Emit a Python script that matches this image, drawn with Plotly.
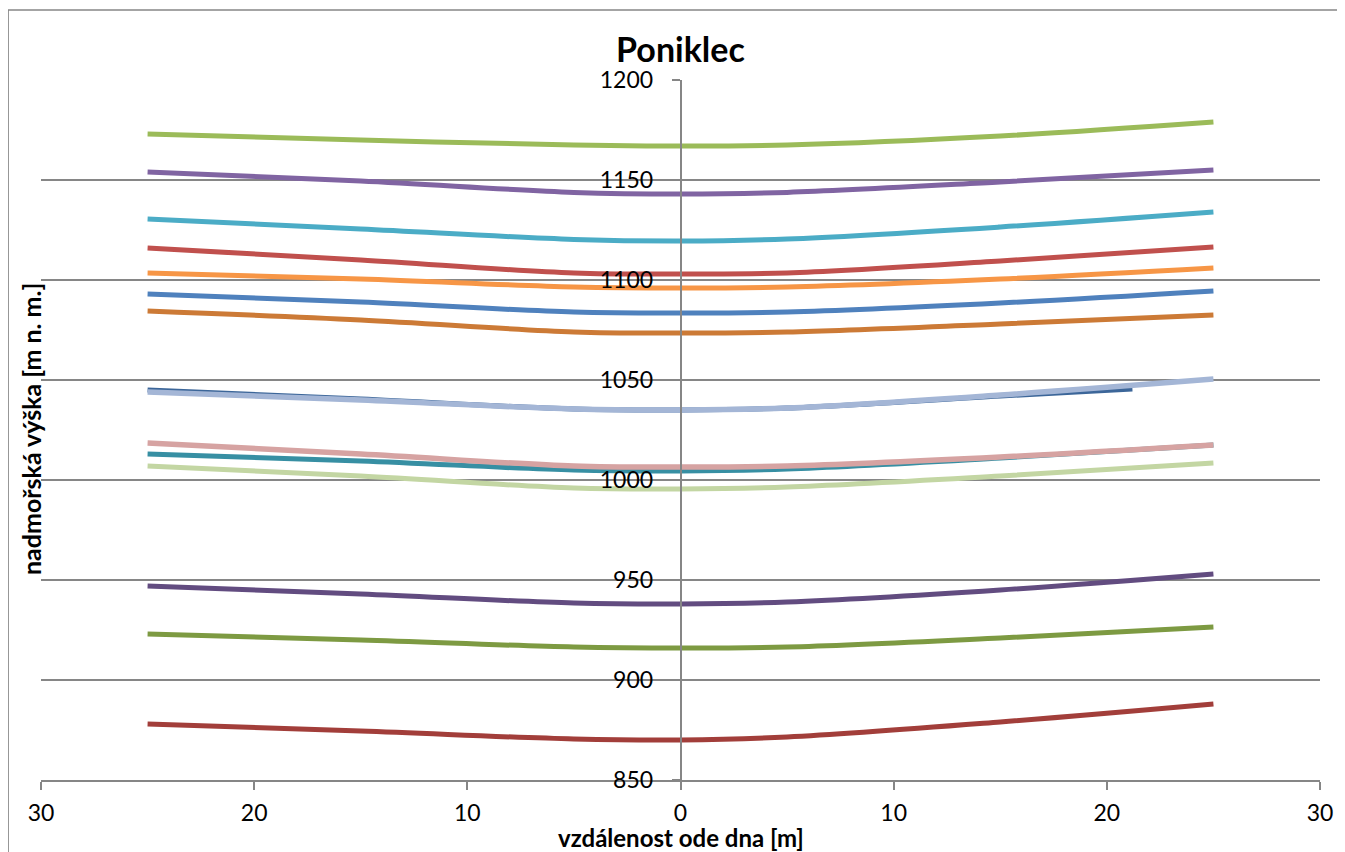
import plotly.graph_objects as go

# ---- data (distance from river bed [m], altitude [m n. m.]) ----
x_std = [-25, -15, -5, 0, 5, 15, 25]
x_short = [-25, -15, -5, 0, 5, 15, 21.2]

y_green = [1173, 1170, 1167.5, 1167, 1167.5, 1172, 1179]
y_purple = [1154, 1149.5, 1143.8, 1143, 1143.8, 1149, 1155]
y_cyan = [1130.5, 1125.5, 1120.3, 1119.5, 1120.5, 1126.5, 1134]
y_red = [1116, 1110, 1103.5, 1103, 1103.5, 1109.5, 1116.5]
y_orange = [1103.5, 1100.5, 1096.5, 1096, 1096.5, 1100.5, 1106]
y_blue = [1093, 1089, 1084, 1083.5, 1084, 1088.5, 1094.5]
y_dkorange = [1084.5, 1080, 1074, 1073.5, 1074, 1078, 1082.5]
y_dkblue = [1045, 1040.5, 1035.5, 1035, 1036, 1042, 1045.5]
y_ltblue = [1044, 1040, 1035.5, 1035, 1036, 1042.5, 1050.5]
y_teal = [1013, 1009.5, 1005, 1004.5, 1005.5, 1011, 1017.5]
y_pink = [1018.5, 1013, 1007, 1006.5, 1007, 1011.5, 1017.5]
y_ltgreen = [1007, 1002, 996, 995.5, 996.5, 1002, 1008.5]
y_dkpurple = [947, 943, 938.5, 938, 939, 945, 953]
y_olive = [923, 920, 916.5, 916, 916.5, 921, 926.5]
y_dkred = [878, 874.5, 870.5, 870, 871.5, 879, 888]

x_ticks = [-30, -20, -10, 0, 10, 20, 30]
x_tick_text = ["30", "20", "10", "0", "10", "20", "30"]
y_ticks = [850, 900, 950, 1000, 1050, 1100, 1150, 1200]

series = [
    (x_std, y_green, "#9BBB59", 5),
    (x_std, y_purple, "#8064A2", 5),
    (x_std, y_cyan, "#4BACC6", 5),
    (x_std, y_red, "#C0504D", 5),
    (x_std, y_orange, "#F79646", 5),
    (x_std, y_blue, "#4F81BD", 5),
    (x_std, y_dkorange, "#CC7A36", 5),
    (x_short, y_dkblue, "#3C6699", 5),
    (x_std, y_ltblue, "#A4B6D6", 5.5),
    (x_std, y_teal, "#378FA3", 5),
    (x_std, y_pink, "#D6A3A2", 5.5),
    (x_std, y_ltgreen, "#C3D6A3", 5),
    (x_std, y_dkpurple, "#624C80", 5),
    (x_std, y_olive, "#7D9A42", 5),
    (x_std, y_dkred, "#A23E3A", 5),
]

FONT = "Lato"
GRID = "#868686"

# figure geometry (page body adds an 8px margin)
W, H = 1337, 844
ML, MR, MT, MB = 33, 21, 72, 72
PW, PH = W - ML - MR, H - MT - MB


def px_x(p):
    return (p - ML) / PW


def px_y(p):
    return (MT + PH - p) / PH


fig = go.Figure()
for i, (xs, ys, col, w) in enumerate(series):
    fig.add_trace(go.Scatter(
        x=xs, y=ys, mode="lines", name=f"{i + 1}",
        line=dict(color=col, width=w, shape="spline", smoothing=1.0),
        showlegend=False,
    ))

fig.update_layout(
    width=W, height=H,
    margin=dict(l=ML, r=MR, t=MT, b=MB),
    paper_bgcolor="white", plot_bgcolor="white",
    font=dict(family=FONT, size=23, color="black"),
    title=dict(text="<b>Poniklec</b>", xref="paper", x=0.5, xanchor="center",
               y=1 - 42 / H, yanchor="middle",
               font=dict(family=FONT, size=34, color="black")),
    xaxis=dict(
        range=[-30, 30], tickmode="array", tickvals=x_ticks, ticktext=x_tick_text,
        showgrid=False, zeroline=False, showline=True, linecolor=GRID, linewidth=1.5,
        ticks="outside", ticklen=8, tickcolor=GRID, tickwidth=1.5,
        ticklabelstandoff=4,
        tickfont=dict(family=FONT, size=23, color="black"),
    ),
    yaxis=dict(
        range=[850, 1200], tickmode="array", tickvals=y_ticks,
        anchor="free", position=0.5,
        showgrid=True, gridcolor=GRID, gridwidth=1.5, zeroline=False,
        showline=True, linecolor=GRID, linewidth=1.5,
        ticks="outside", ticklen=8, tickcolor=GRID, tickwidth=1.5,
        ticklabelstandoff=14,
        tickfont=dict(family=FONT, size=23, color="black"),
    ),
    annotations=[
        dict(
            text="<b>nadmořská výška [m n. m.]</b>", textangle=-90,
            xref="paper", yref="paper", x=px_x(23), y=px_y(421),
            xanchor="center", yanchor="middle", showarrow=False,
            font=dict(family=FONT, size=25, color="black"),
        ),
        dict(
            text="<b>vzdálenost ode dna [m]</b>",
            xref="paper", yref="paper", x=0.5, y=px_y(829),
            xanchor="center", yanchor="middle", showarrow=False,
            font=dict(family=FONT, size=24, color="black"),
        ),
    ],
    shapes=[dict(
        type="rect", xref="paper", yref="paper",
        x0=px_x(0), x1=px_x(W + 20),
        y0=px_y(H + 20), y1=px_y(2),
        line=dict(color=GRID, width=1.5), fillcolor="rgba(0,0,0,0)", layer="below",
    )],
)

fig.write_html("out.html")
